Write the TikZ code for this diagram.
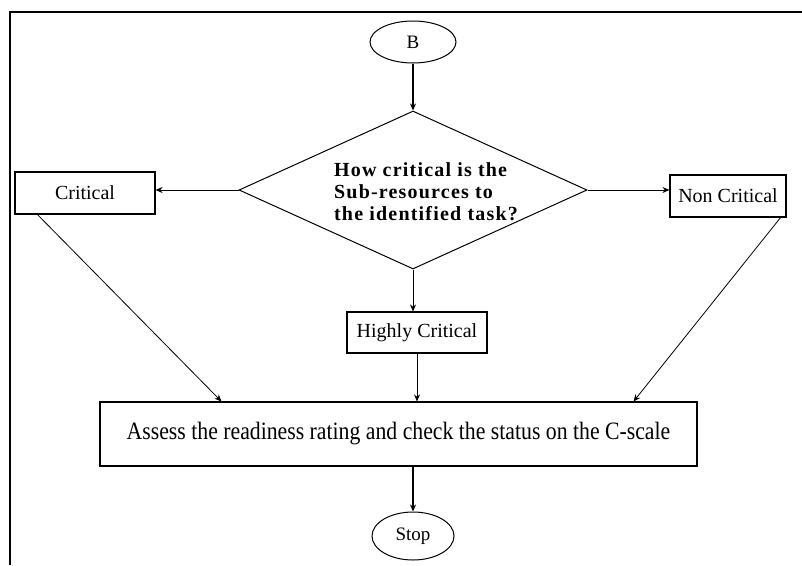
\documentclass[tikz,border=0pt]{standalone}
\usepackage{fontspec}
\setmainfont{Liberation Serif}
\newfontfamily\qfont[LetterSpace=6]{Liberation Serif}
\usetikzlibrary{arrows.meta,shapes.geometric}
\tikzset{
  frameline/.style={line width=2pt},
  stepbox/.style={draw, line width=1.1pt, inner sep=0pt, font=\fontsize{20}{24}\selectfont},
  term/.style={draw, ellipse, line width=1pt, inner sep=0pt, font=\fontsize{19}{22}\selectfont},
  decision/.style={draw, diamond, line width=1pt, inner sep=0pt},
  arr/.style={-{Stealth[length=7pt,width=6pt]}, line width=0.8pt},
  thickarr/.style={-{Stealth[length=7pt,width=6pt]}, line width=2pt}
}
\begin{document}
\begin{tikzpicture}[x=1pt,y=-1pt]
\useasboundingbox (0,0) rectangle (802,565);
\fill[white] (0,0) rectangle (802,565);
\draw[frameline] (10,565) -- (10,12) -- (802,12);

\node[term, minimum width=86pt, minimum height=42pt] (b) at (413,42) {B};
\node[decision, minimum width=348pt, minimum height=158pt] (dia) at (413,190) {};
\node[align=left, inner sep=0pt, font=\qfont\bfseries\fontsize{20}{22}\selectfont] (q) at (426,192)
  {How critical is the\\Sub-resources to\\the identified task?};

\node[stepbox, minimum width=140pt, minimum height=42pt] (crit) at (85,193) {Critical};
\node[stepbox, minimum width=116pt, minimum height=42pt] (noncrit) at (728,196) {Non Critical};
\node[stepbox, minimum width=140pt, minimum height=41pt] (hc) at (417,332.5) {Highly Critical};
\node[stepbox, minimum width=597pt, minimum height=64pt] (assess) at (398.5,434)
  {\fontsize{25}{30}\selectfont\scalebox{0.87}[1]{Assess the readiness rating and check the status on the C-scale}};
\node[term, minimum width=82pt, minimum height=48pt] (stop) at (413,536) {Stop};

\draw[thickarr] (b) -- (dia.north);
\draw[arr] (dia.west) -- (dia.west -| crit.east);
\draw[arr] (dia.east) -- (dia.east -| noncrit.west);
\draw[arr] (dia.south) -- (dia.south |- hc.north);
\draw[arr] ([xshift=23pt]crit.south west) -- ([xshift=122pt]assess.north west);
\draw[arr] ([xshift=-6pt]noncrit.south east) -- ([xshift=-64pt]assess.north east);
\draw[arr] (hc.south) -- (hc.south |- assess.north);
\draw[thickarr] (assess.south -| stop) -- (stop.north);
\end{tikzpicture}
\end{document}
